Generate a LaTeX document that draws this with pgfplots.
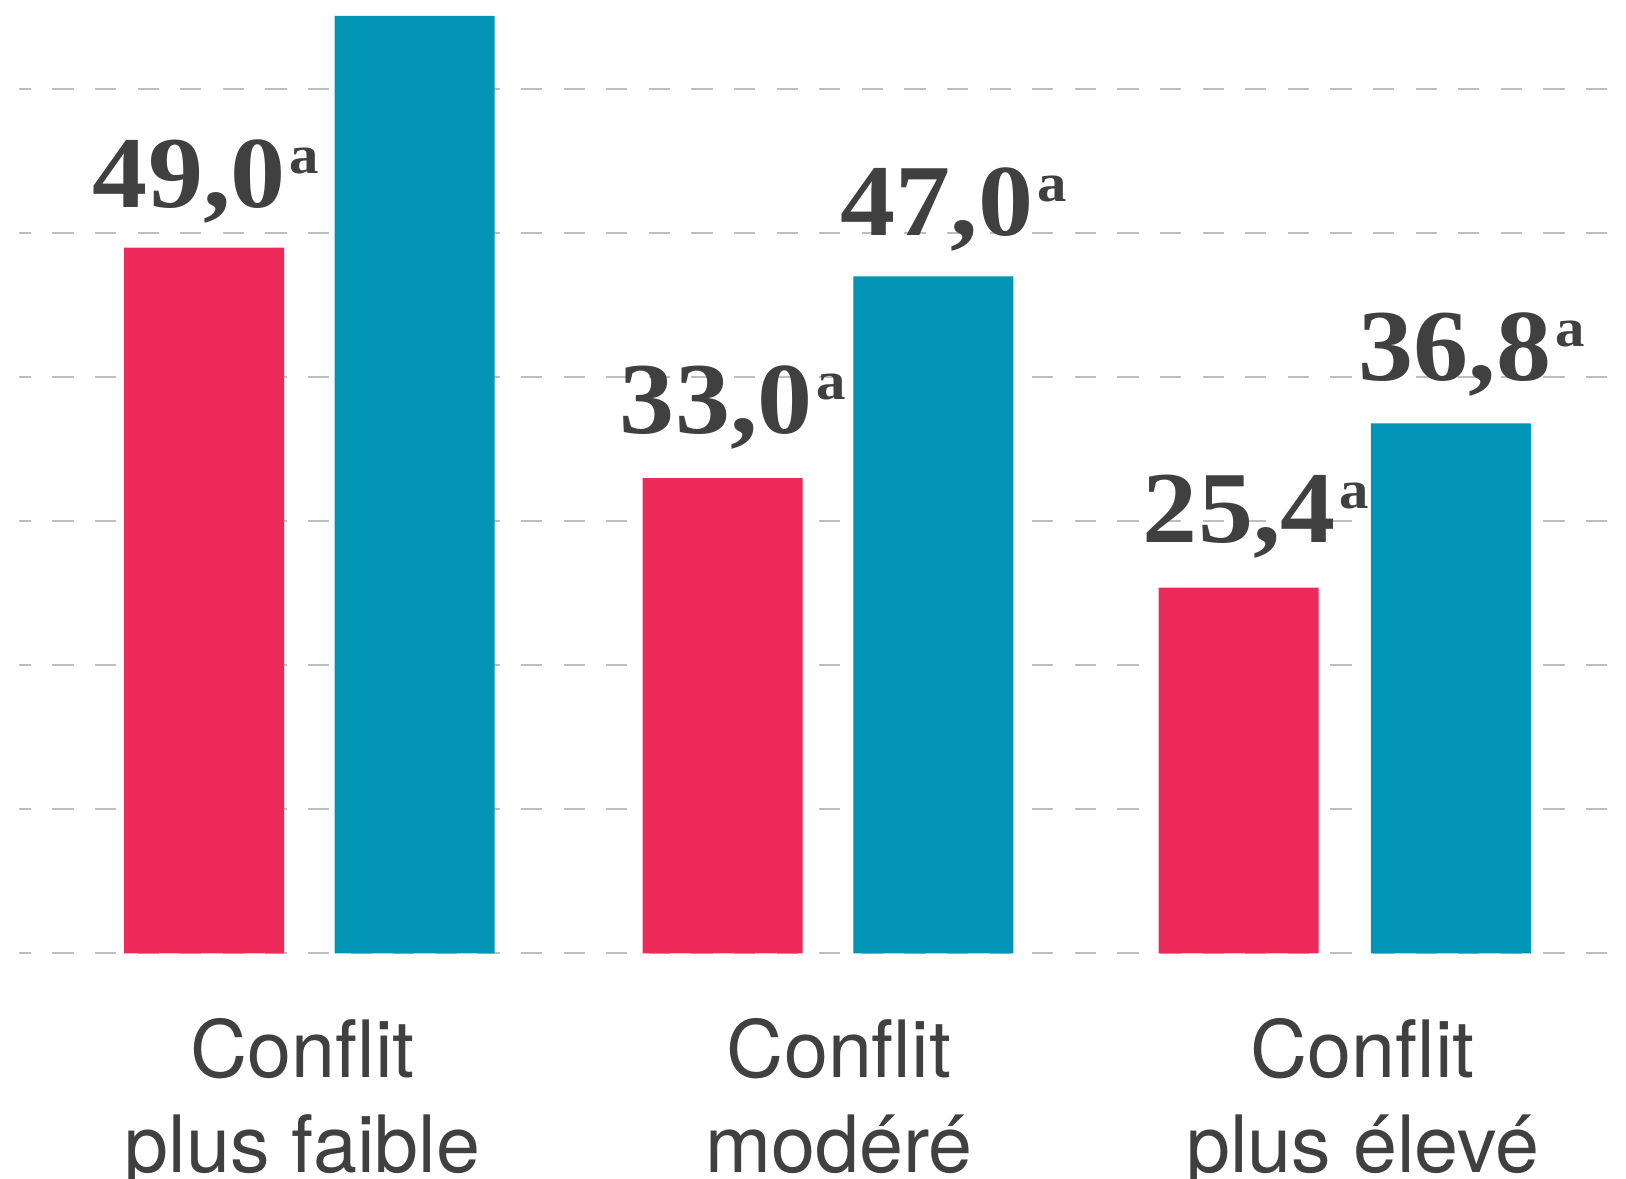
\documentclass[border=0pt]{standalone}
\usepackage{fontspec}
\setmainfont{TeX Gyre Heros}
\newfontfamily\valfont[FakeStretch=1.08]{Liberation Serif}
\usepackage{pgfplots}
\pgfplotsset{compat=1.18}
\definecolor{cred}{RGB}{238,42,90}
\definecolor{cblue}{RGB}{0,148,183}
\definecolor{ctext}{RGB}{64,64,64}
\definecolor{cgrid}{RGB}{190,190,192}
\newcommand{\val}[1]{{\valfont\bfseries\fontsize{29}{29}\selectfont #1\kern0.4mm\raisebox{3.4mm}{\fontsize{15.5}{15.5}\selectfont a}}}
\newcommand{\cat}[1]{{\fontsize{22.5}{22.5}\selectfont #1}}
\begin{document}
\begin{tikzpicture}
\begin{axis}[
  at={(1.9mm,22.47mm)}, anchor=south west,
  scale only axis, width=159.2mm, height=95.33mm,
  xmin=19, xmax=1611, ymin=0, ymax=66.2,
  axis line style={draw=none},
  xtick=\empty, ytick={0,10,...,60}, yticklabels={},
  major tick length=0pt, tick style={draw=none},
  ymajorgrids,
  grid style={cgrid, line width=0.2mm, dash pattern=on 2.13mm off 2.13mm, dash phase=0.93mm},
  clip=false,
]
\addplot[ybar, bar width=16mm, bar shift=0pt, fill=cred, draw=none]
  coordinates {(204,49.0) (722.5,33.0) (1238.7,25.4)};
\addplot[ybar, bar width=16mm, bar shift=0pt, fill=cblue, draw=none]
  coordinates {(414.5,65.1) (933.3,47.0) (1450.8,36.8)};

\node[anchor=base, inner sep=0pt, text=ctext] at (axis cs:206,51.78) {\val{49,0}};
\node[anchor=base, inner sep=0pt, text=ctext] at (axis cs:733,36.09) {\val{33,0}};
\node[anchor=base, inner sep=0pt, text=ctext] at (axis cs:953.5,49.83) {\val{47,0}};
\node[anchor=base, inner sep=0pt, text=ctext] at (axis cs:1256,28.51) {\val{25,4}};
\node[anchor=base, inner sep=0pt, text=ctext] at (axis cs:1471.5,39.79) {\val{36,8}};

\node[anchor=base, inner sep=0pt, text=ctext] at (axis cs:302.5,-8.59) {\cat{Conflit}};
\node[anchor=base, inner sep=0pt, text=ctext] at (axis cs:302.5,-15.19) {\cat{plus faible}};
\node[anchor=base, inner sep=0pt, text=ctext] at (axis cs:839,-8.59) {\cat{Conflit}};
\node[anchor=base, inner sep=0pt, text=ctext] at (axis cs:839,-15.19) {\cat{modéré}};
\node[anchor=base, inner sep=0pt, text=ctext] at (axis cs:1362.8,-8.59) {\cat{Conflit}};
\node[anchor=base, inner sep=0pt, text=ctext] at (axis cs:1362.8,-15.19) {\cat{plus élevé}};
\end{axis}
\pgfresetboundingbox
\path[use as bounding box] (0,0) rectangle (162.6mm,117.8mm);
\end{tikzpicture}
\end{document}
